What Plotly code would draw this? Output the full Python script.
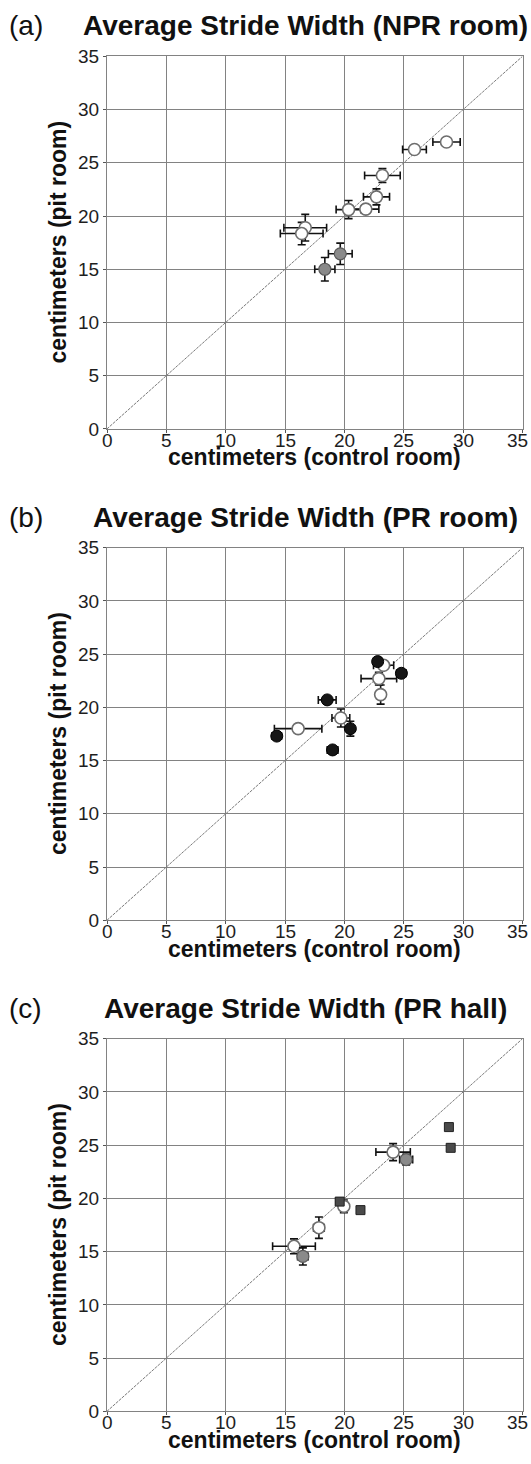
import plotly.graph_objects as go

W, H = 531, 1464

TICKS = [0, 5, 10, 15, 20, 25, 30, 35]
AXIS_RANGE = [0, 35]
PANEL_TAGS = ["(a)", "(b)", "(c)"]
TITLES = [
    "Average Stride Width (NPR room)",
    "Average Stride Width (PR room)",
    "Average Stride Width (PR hall)",
]
X_TITLE = "centimeters (control room)"
Y_TITLE = "centimeters (pit room)"

# (a) NPR room: mean stride width, control room vs pit room, with SE
npr_ctrl = [28.6, 25.9, 23.2, 22.7, 21.8, 20.35, 16.7, 16.4, 19.65, 18.35]
npr_pit = [26.95, 26.25, 23.8, 21.8, 20.65, 20.6, 18.9, 18.35, 16.45, 15.0]
npr_ctrl_err = [1.15, 1.0, 1.5, 1.1, 1.1, 1.05, 1.8, 1.8, 1.0, 0.85]
npr_pit_err = [0.3, 0.3, 0.65, 0.75, 0.3, 0.85, 1.25, 1.05, 1.0, 1.1]
npr_group = ["open", "open", "open", "open", "open", "open", "open", "open", "grey", "grey"]

# (b) PR room
prr_ctrl = [22.8, 23.3, 24.8, 22.9, 23.05, 18.55, 19.7, 20.5, 16.1, 14.3, 19.0]
prr_pit = [24.3, 23.95, 23.2, 22.7, 21.2, 20.7, 19.0, 18.0, 18.0, 17.3, 16.0]
prr_ctrl_err = [0.2, 0.85, 0.4, 1.5, 0.2, 0.75, 0.75, 0.2, 2.0, 0.4, 0.45]
prr_pit_err = [0.35, 0.25, 0.3, 0.6, 0.9, 0.2, 0.85, 0.7, 0.3, 0.2, 0.25]
prr_group = ["black", "open", "black", "open", "open", "black", "open", "black", "open", "black", "black"]

# (c) PR hall
prh_ctrl = [19.6, 19.95, 21.35, 17.85, 15.75, 16.5, 24.1, 25.2, 28.8, 28.95]
prh_pit = [19.7, 19.25, 18.9, 17.25, 15.5, 14.55, 24.35, 23.65, 26.7, 24.75]
prh_ctrl_err = [0.3, 0.35, 0.25, 0.45, 1.8, 0.45, 1.45, 0.55, 0.15, 0.2]
prh_pit_err = [0.25, 0.6, 0.2, 1.0, 0.7, 0.8, 0.8, 0.5, 0.25, 0.2]
prh_group = ["dark", "open", "dark", "open", "open", "grey", "open", "grey", "dark", "dark"]

panels = [
    (npr_ctrl, npr_pit, npr_ctrl_err, npr_pit_err, npr_group),
    (prr_ctrl, prr_pit, prr_ctrl_err, prr_pit_err, prr_group),
    (prh_ctrl, prh_pit, prh_ctrl_err, prh_pit_err, prh_group),
]

# marker looks per group
STYLE = {
    "open": dict(symbol="circle", size=12, color="white", line=dict(color="#6e6e6e", width=1.6)),
    "grey": dict(symbol="circle", size=12, color="#8a8a8a", line=dict(color="#5a5a5a", width=1.2)),
    "black": dict(symbol="circle", size=12, color="#161616", line=dict(color="#000000", width=1)),
    "dark": dict(symbol="square", size=9, color="#4a4a4a", line=dict(color="#222222", width=1)),
}

FONT = "Liberation Sans, Arial"

# plot-area geometry in pixels
PLOT_LEFT, PLOT_RIGHT = 107, 522.5
PLOT_TOPS = [47, 545.5, 1043.7]
PLOT_H = 378


def fx(px):
    return px / W


def fy(py):
    return 1 - py / H


fig = go.Figure()
annotations = []

for i, (xs, ys, xe, ye, grp) in enumerate(panels):
    n = "" if i == 0 else str(i + 1)
    xa, ya = "x" + n, "y" + n
    top = PLOT_TOPS[i]
    bottom = top + PLOT_H

    # identity line
    fig.add_trace(go.Scatter(
        x=AXIS_RANGE, y=AXIS_RANGE, mode="lines",
        line=dict(color="#7a7a7a", width=1, dash="3px,1px"),
        xaxis=xa, yaxis=ya, showlegend=False, hoverinfo="skip",
    ))

    for kind in ["open", "grey", "dark", "black"]:
        idx = [k for k, g in enumerate(grp) if g == kind]
        if not idx:
            continue
        fig.add_trace(go.Scatter(
            x=[xs[k] for k in idx], y=[ys[k] for k in idx],
            mode="markers",
            marker=STYLE[kind],
            error_x=dict(type="data", array=[xe[k] for k in idx], color="#111111",
                         thickness=1.6, width=4),
            error_y=dict(type="data", array=[ye[k] for k in idx], color="#111111",
                         thickness=1.6, width=4),
            xaxis=xa, yaxis=ya, showlegend=False,
        ))

    axis_common = dict(
        range=AXIS_RANGE, tickvals=TICKS, ticktext=[str(t) for t in TICKS],
        showgrid=True, gridcolor="#828282", gridwidth=1,
        showline=True, linecolor="#828282", linewidth=1, mirror=True,
        ticks="outside", ticklen=3, tickcolor="#555555",
        tickfont=dict(family=FONT, size=19, color="#1e1e1e"),
        zeroline=False, fixedrange=True,
    )
    fig.update_layout(**{
        ("xaxis" + n): dict(axis_common, domain=[fx(PLOT_LEFT), fx(PLOT_RIGHT)], anchor=ya,
                            showticklabels=False),
        ("yaxis" + n): dict(axis_common, domain=[fy(bottom), fy(top)], anchor=xa),
    })

    # x tick labels sit tight under the axis; the last one is pulled inside the page
    for t in TICKS:
        last = t == TICKS[-1]
        annotations.append(dict(
            text=str(t), xref=xa, yref="paper", x=t, y=fy(bottom - 1),
            xanchor="right" if last else "center", yanchor="top",
            xshift=7 if last else 0,
            showarrow=False, font=dict(family=FONT, size=19, color="#1e1e1e"),
        ))

    annotations.append(dict(
        text="<b>" + TITLES[i] + "</b>", xref="paper", yref="paper",
        x=fx(305), y=fy(top - 31), xanchor="center", yanchor="middle",
        showarrow=False, font=dict(family=FONT, size=28, color="#111111"),
    ))
    annotations.append(dict(
        text=PANEL_TAGS[i], xref="paper", yref="paper",
        x=fx(7), y=fy(top - 31), xanchor="left", yanchor="middle",
        showarrow=False, font=dict(family=FONT, size=28, color="#111111"),
    ))
    annotations.append(dict(
        text="<b>" + X_TITLE + "</b>", xref="paper", yref="paper",
        x=fx((PLOT_LEFT + PLOT_RIGHT) / 2), y=fy(bottom + 29), xanchor="center", yanchor="middle",
        showarrow=False, font=dict(family=FONT, size=23, color="#111111"),
    ))
    annotations.append(dict(
        text="<b>" + Y_TITLE + "</b>", xref="paper", yref="paper", textangle=-90,
        x=fx(58), y=fy(top + PLOT_H / 2), xanchor="center", yanchor="middle",
        showarrow=False, font=dict(family=FONT, size=23, color="#111111"),
    ))

fig.update_layout(
    width=W, height=H,
    margin=dict(l=0, r=0, t=0, b=0),
    paper_bgcolor="white", plot_bgcolor="white",
    annotations=annotations,
    showlegend=False,
)

fig.write_html("out.html")
